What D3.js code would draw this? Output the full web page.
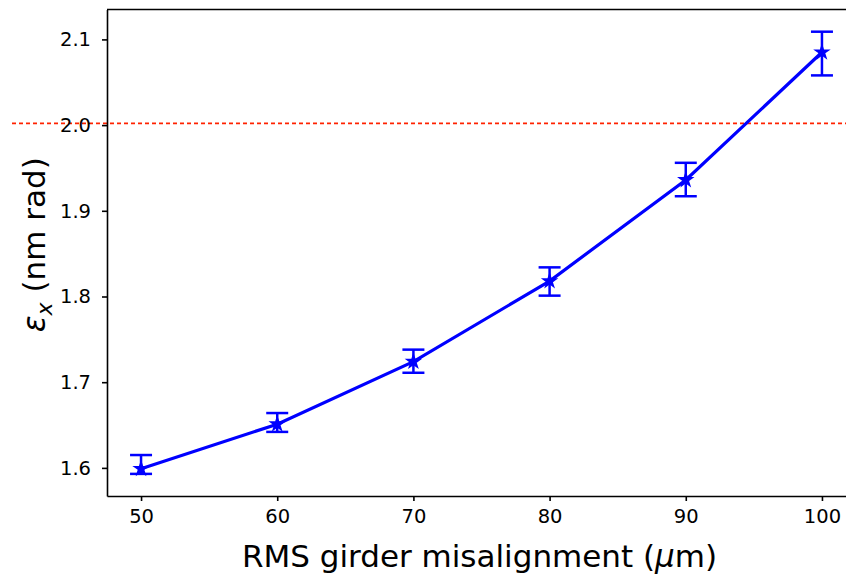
<!DOCTYPE html>
<html>
<head>
<meta charset="utf-8">
<script src="https://cdn.jsdelivr.net/npm/d3@7.9.0/dist/d3.min.js"></script>
<style>
  html, body { margin: 0; padding: 0; background: #fff; }
  svg { display: block; font-family: 'DejaVu Sans', sans-serif; }
</style>
</head>
<body>
<div id="chart"></div>
<script>
// misalignment (um) and emittance (nm rad) with error bar ends
const misalignment = [50, 60, 70, 80, 90, 100];
const emittance = [1.599, 1.651, 1.724, 1.818, 1.936, 2.085];
const errLow = [1.593, 1.642, 1.711, 1.801, 1.917, 2.058];
const errHigh = [1.615, 1.664, 1.738, 1.834, 1.956, 2.109];
const threshold = 2.002;
const xTicks = [50, 60, 70, 80, 90, 100];
const yTicks = [1.6, 1.7, 1.8, 1.9, 2.0, 2.1];

const points = misalignment.map((m, i) => ({
  x: m, y: emittance[i], lo: errLow[i], hi: errHigh[i]
}));

const width = 846;
const height = 574;
const margin = { top: 9.5, right: -10, bottom: 78, left: 107 };

const svg = d3.select('#chart')
  .append('svg')
  .attr('width', width)
  .attr('height', height);

const xScale = d3.scaleLinear()
  .domain([47.5, 102.5])
  .range([margin.left, width - margin.right]);

const yScale = d3.scaleLinear()
  .domain([1.5672, 2.1349])
  .range([height - margin.bottom, margin.top]);

// threshold line, runs past the left spine like the original
svg.append('line')
  .attr('x1', 12)
  .attr('x2', width)
  .attr('y1', yScale(threshold))
  .attr('y2', yScale(threshold))
  .attr('stroke', '#ff2200')
  .attr('stroke-width', 1.6)
  .attr('stroke-dasharray', '4,3');

// line through points
svg.append('path')
  .datum(points)
  .attr('fill', 'none')
  .attr('stroke', '#0000ff')
  .attr('stroke-width', 3.2)
  .attr('d', d3.line().x((d) => xScale(d.x)).y((d) => yScale(d.y)));

// error bars
const bars = svg.append('g').attr('class', 'errorbars')
  .attr('stroke', '#0000ff')
  .attr('stroke-width', 2.5);

const capHalf = 11;

bars.selectAll('line.stem')
  .data(points)
  .join('line')
  .attr('class', 'stem')
  .attr('x1', (d) => xScale(d.x))
  .attr('x2', (d) => xScale(d.x))
  .attr('y1', (d) => yScale(d.lo))
  .attr('y2', (d) => yScale(d.hi));

bars.selectAll('line.caphi')
  .data(points)
  .join('line')
  .attr('class', 'caphi')
  .attr('x1', (d) => xScale(d.x) - capHalf)
  .attr('x2', (d) => xScale(d.x) + capHalf)
  .attr('y1', (d) => yScale(d.hi))
  .attr('y2', (d) => yScale(d.hi));

bars.selectAll('line.caplo')
  .data(points)
  .join('line')
  .attr('class', 'caplo')
  .attr('x1', (d) => xScale(d.x) - capHalf)
  .attr('x2', (d) => xScale(d.x) + capHalf)
  .attr('y1', (d) => yScale(d.lo))
  .attr('y2', (d) => yScale(d.lo));

// star markers
svg.append('g')
  .selectAll('path')
  .data(points)
  .join('path')
  .attr('transform', (d) => `translate(${xScale(d.x)},${yScale(d.y)})`)
  .attr('d', d3.symbol(d3.symbolStar, 95))
  .attr('fill', '#0000ff');

// axes
const xAxis = svg.append('g')
  .attr('transform', `translate(0,${height - margin.bottom})`)
  .call(d3.axisBottom(xScale).tickValues(xTicks).tickSize(5).tickPadding(8).tickSizeOuter(0));

const yAxis = svg.append('g')
  .attr('transform', `translate(${margin.left},0)`)
  .call(d3.axisLeft(yScale).tickValues(yTicks).tickFormat(d3.format('.1f')).tickSize(5).tickPadding(11).tickSizeOuter(0));

[xAxis, yAxis].forEach((g) => {
  g.select('.domain').attr('stroke', '#000').attr('stroke-width', 1.6);
  g.selectAll('.tick line').attr('stroke', '#000').attr('stroke-width', 1.6);
  g.selectAll('.tick text')
    .attr('fill', '#000')
    .style('font-family', 'DejaVu Sans, sans-serif')
    .style('font-size', '19.5px');
});

// top spine
svg.append('line')
  .attr('x1', margin.left)
  .attr('x2', width)
  .attr('y1', margin.top)
  .attr('y2', margin.top)
  .attr('stroke', '#000')
  .attr('stroke-width', 1.6);

// axis labels
svg.append('text')
  .attr('x', xScale(75) - 2)
  .attr('y', 567)
  .attr('text-anchor', 'middle')
  .style('font-size', '31px')
  .style('font-family', 'DejaVu Sans, sans-serif')
  .html('RMS girder misalignment (<tspan font-style="italic">μ</tspan>m)');

const yMid = (margin.top + height - margin.bottom) / 2;
svg.append('text')
  .attr('transform', `translate(45,${yMid - 8}) rotate(-90)`)
  .attr('text-anchor', 'middle')
  .style('font-size', '31px')
  .style('font-family', 'DejaVu Sans, sans-serif')
  .html('<tspan font-style="italic">ε</tspan><tspan font-style="italic" font-size="22px" dy="7">x</tspan><tspan dy="-7"> (nm rad)</tspan>');
</script>
</body>
</html>
